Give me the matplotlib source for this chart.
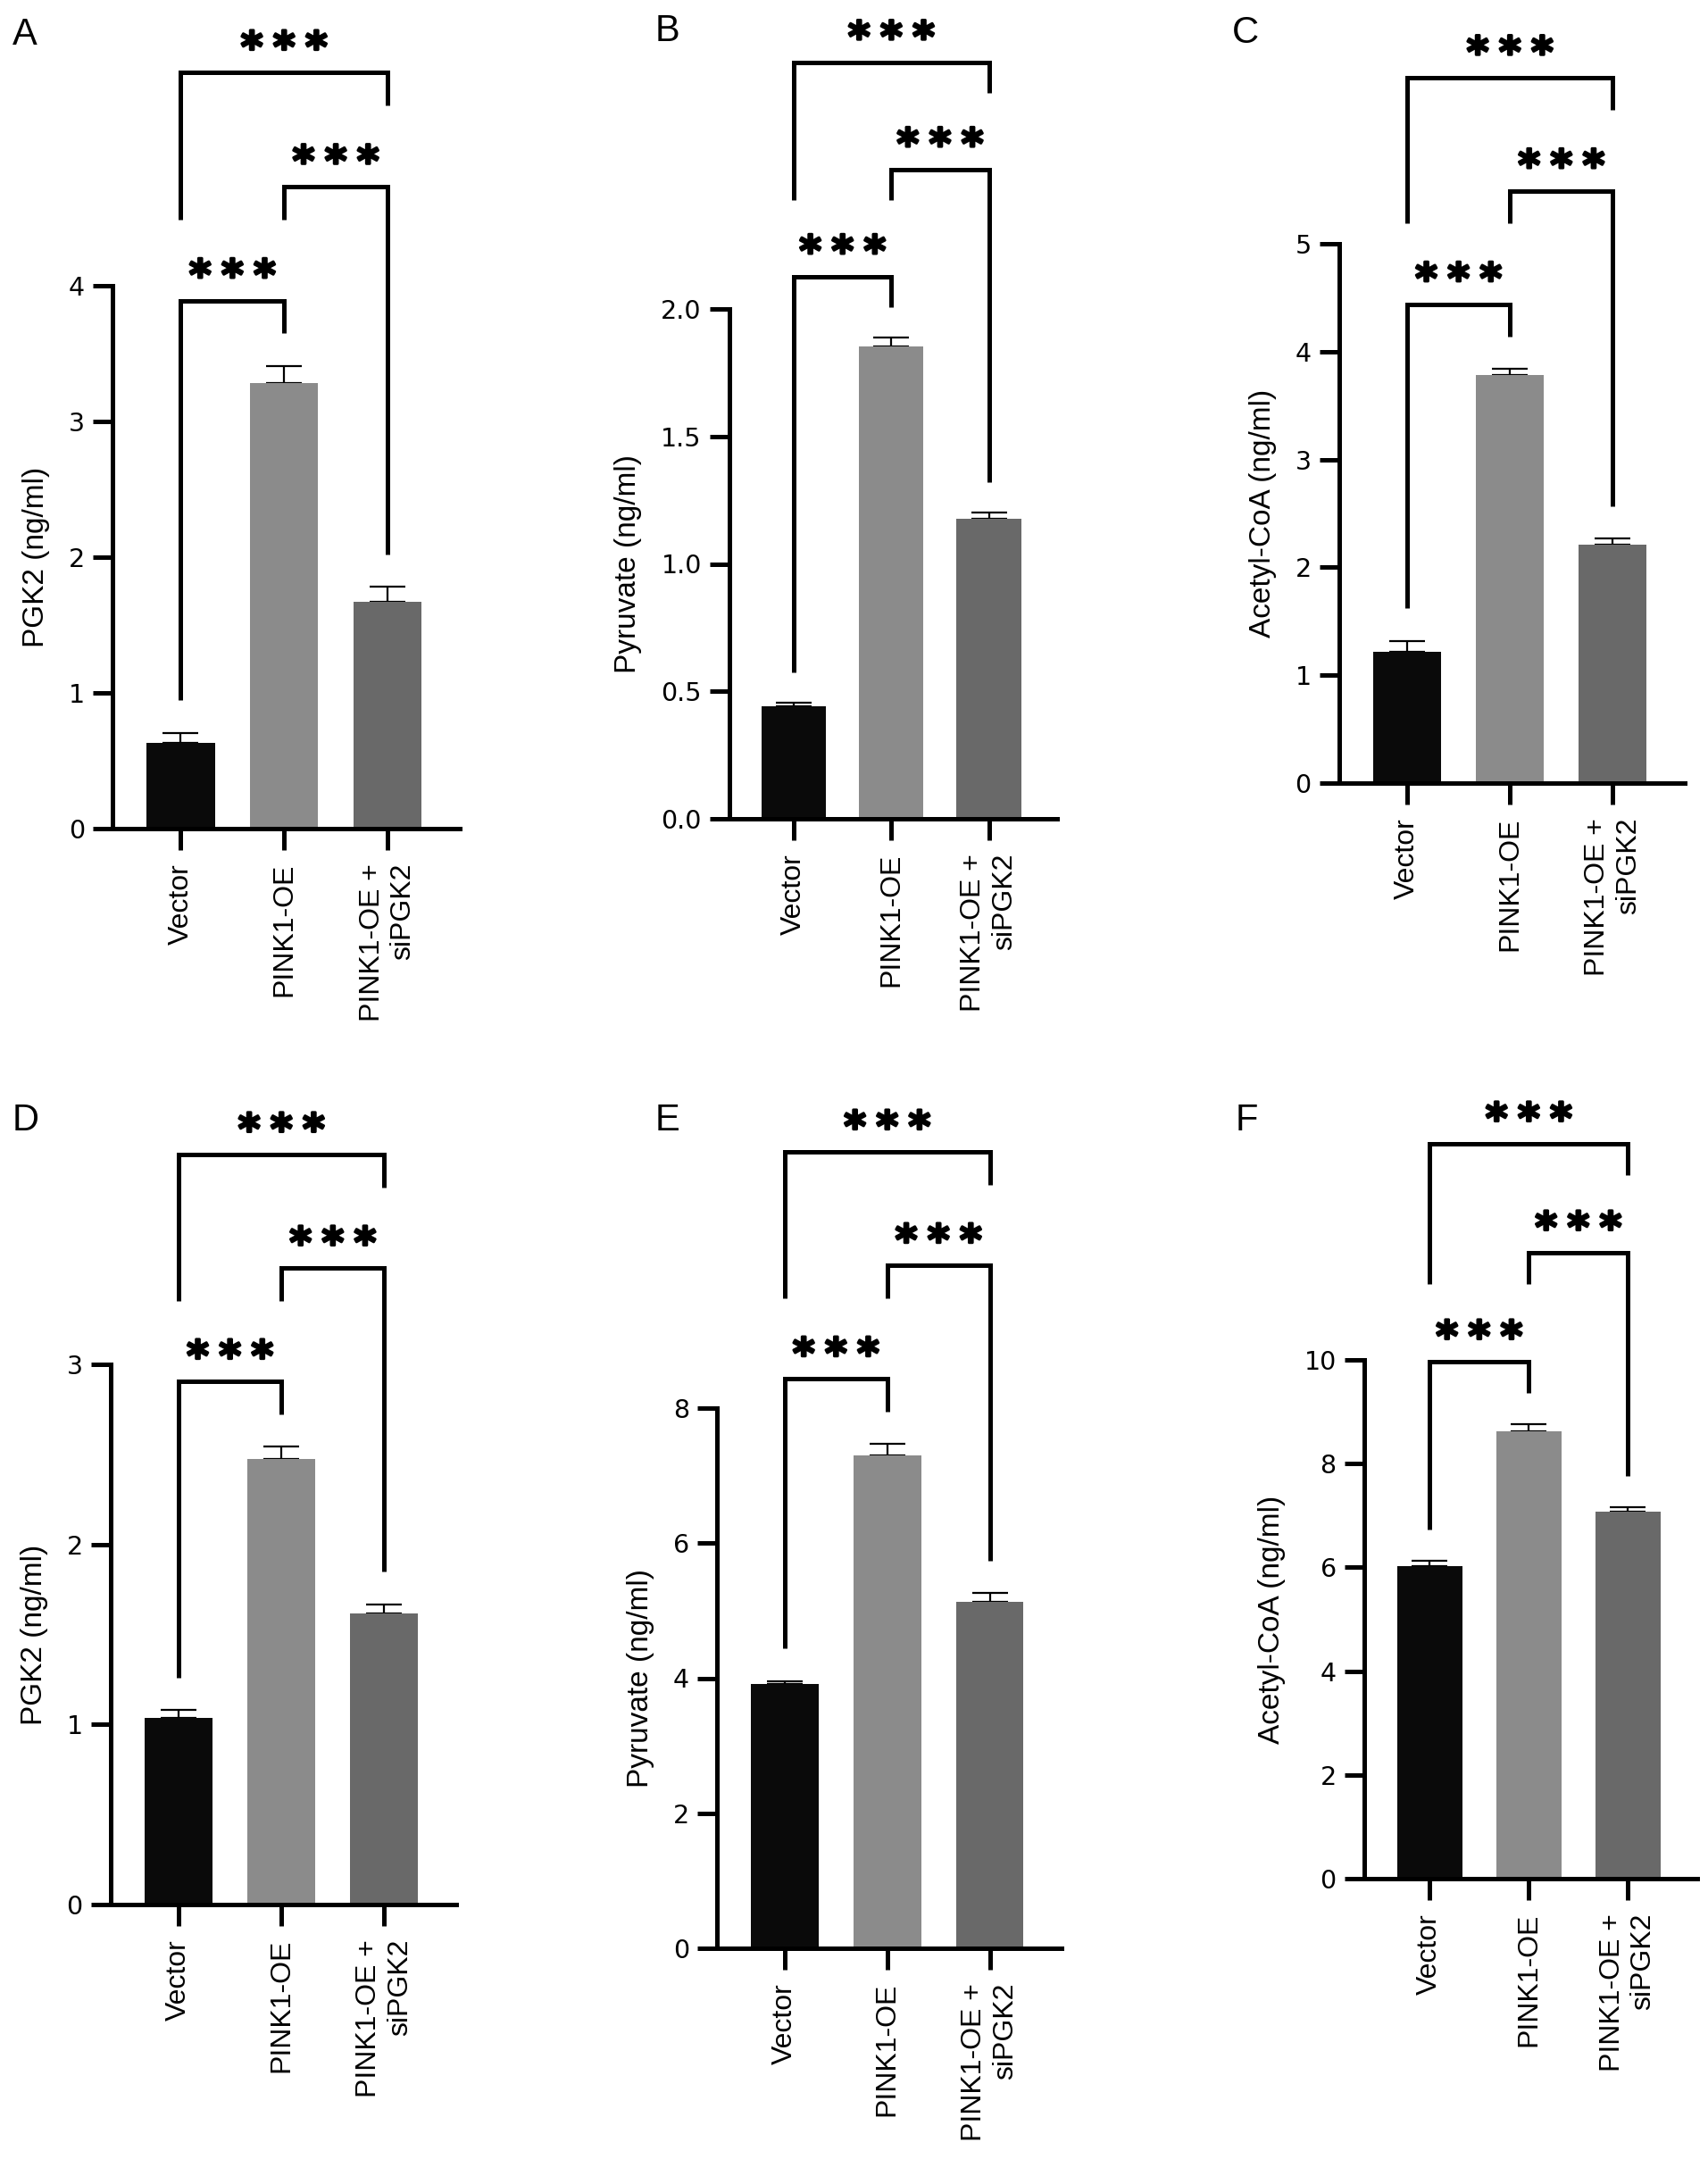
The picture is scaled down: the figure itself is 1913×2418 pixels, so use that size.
import matplotlib
matplotlib.use("Agg")
import matplotlib.pyplot as plt
import matplotlib.patheffects as pe
import numpy as np

W, H, DPI = 1913, 2418, 100

# ---------------- data ----------------
groups = ["Vector", "PINK1-OE", "PINK1-OE +\nsiPGK2"]
bar_colors = ["#0a0a0a", "#8b8b8b", "#696969"]
panel_letters = ["A", "B", "C", "D", "E", "F"]
ylabels = ["PGK2 (ng/ml)", "Pyruvate (ng/ml)", "Acetyl-CoA (ng/ml)",
           "PGK2 (ng/ml)", "Pyruvate (ng/ml)", "Acetyl-CoA (ng/ml)"]

pgk2_a = [0.63, 3.28, 1.67]
pgk2_a_err = [0.075, 0.13, 0.11]
pyr_b = [0.443, 1.852, 1.176]
pyr_b_err = [0.013, 0.035, 0.024]
acoa_c = [1.22, 3.78, 2.21]
acoa_c_err = [0.10, 0.06, 0.06]
pgk2_d = [1.034, 2.474, 1.618]
pgk2_d_err = [0.046, 0.07, 0.05]
pyr_e = [3.91, 7.30, 5.13]
pyr_e_err = [0.05, 0.17, 0.13]
acoa_f = [6.02, 8.62, 7.08]
acoa_f_err = [0.11, 0.14, 0.08]

ticks_a = [0, 1, 2, 3, 4]
ticks_b = [0.0, 0.5, 1.0, 1.5, 2.0]
ticks_c = [0, 1, 2, 3, 4, 5]
ticks_d = [0, 1, 2, 3]
ticks_e = [0, 2, 4, 6, 8]
ticks_f = [0, 2, 4, 6, 8, 10]
ticklabels_b = ["0.0", "0.5", "1.0", "1.5", "2.0"]

significance = "*"  # drawn three times per bracket ("***")

panels = [
    (pgk2_a, pgk2_a_err, ticks_a, [str(t) for t in ticks_a]),
    (pyr_b, pyr_b_err, ticks_b, ticklabels_b),
    (acoa_c, acoa_c_err, ticks_c, [str(t) for t in ticks_c]),
    (pgk2_d, pgk2_d_err, ticks_d, [str(t) for t in ticks_d]),
    (pyr_e, pyr_e_err, ticks_e, [str(t) for t in ticks_e]),
    (acoa_f, acoa_f_err, ticks_f, [str(t) for t in ticks_f]),
]

# ---------------- layout (pixels) ----------------
# left, right, y of zero, y of top tick
boxes = [
    (126, 515, 928, 320),
    (817, 1184, 917, 346),
    (1500, 1887, 877, 273),
    (124, 511, 2133, 1528),
    (803, 1189, 2182, 1577),
    (1528, 1901, 2104, 1523),
]
letter_pos = [(14, 19), (734, 15), (1380, 17), (14, 1235), (734, 1235), (1384, 1235)]

LW = 3.6
SANS = ["Liberation Sans", "DejaVu Sans"]

fig = plt.figure(figsize=(W / DPI, H / DPI), dpi=DPI)
star_fx = [pe.withStroke(linewidth=2.0, foreground="black")]


def draw_brackets(ax, vals, errs, ytop):
    tops = [v + e for v, e in zip(vals, errs)]
    gap = 0.06 * ytop
    l1 = max(tops[0], tops[1]) + 0.12 * ytop
    l2 = l1 + 0.21 * ytop
    l3 = l2 + 0.21 * ytop
    clear1 = l1 + 0.15 * ytop
    clear2 = l2 + 0.15 * ytop
    brackets = [(0, 1, l1, tops[0] + gap, tops[1] + gap),
                (1, 2, l2, clear1, tops[2] + gap),
                (0, 2, l3, clear1, clear2)]
    for i, j, lev, yl, yr in brackets:
        ax.plot([i, i, j, j], [yl, lev, lev, yr], color="black", lw=LW,
                clip_on=False, solid_joinstyle="miter", solid_capstyle="butt")
        xc = (i + j) / 2
        for k in (-1, 0, 1):
            ax.annotate(significance, xy=(xc, lev), xytext=(k * 26, 9),
                        textcoords="offset points", ha="center", va="baseline",
                        fontsize=34, fontweight="bold", family="DejaVu Sans",
                        annotation_clip=False, path_effects=star_fx)


for idx, ((vals, errs, ticks, tlabels), box) in enumerate(zip(panels, boxes)):
    left, right, y0, yt = box
    ax = fig.add_axes([left / W, 1 - y0 / H, (right - left) / W, (y0 - yt) / H])
    x = np.arange(len(groups))
    ax.bar(x, vals, width=0.66, color=bar_colors, edgecolor="none", zorder=2)
    ax.errorbar(x, vals, yerr=[np.zeros(len(vals)), errs], fmt="none",
                ecolor="black", elinewidth=1.6, capsize=14.5, capthick=1.6, zorder=1)
    ytop = ticks[-1]
    ax.set_ylim(0, ytop)
    ax.set_xlim(-0.66, 2.70)
    ax.set_yticks(ticks)
    ax.set_yticklabels(tlabels, family="DejaVu Sans", fontsize=20.5)
    ax.set_xticks(x)
    ax.set_xticklabels(groups, rotation=90, ha="center", va="top",
                       multialignment="right", family=SANS, fontsize=23)
    for s in ("top", "right"):
        ax.spines[s].set_visible(False)
    for s in ("left", "bottom"):
        ax.spines[s].set_linewidth(LW)
        ax.spines[s].set_capstyle("projecting")
    ax.tick_params(axis="y", width=LW, length=15.5, pad=7)
    ax.tick_params(axis="x", width=LW, length=17, pad=11)
    ax.set_ylabel(ylabels[idx], family=SANS, fontsize=24, labelpad=15)
    ax.patch.set_visible(False)
    draw_brackets(ax, vals, errs, ytop)

for letter, (lx, ly) in zip(panel_letters, letter_pos):
    fig.text(lx / W, 1 - ly / H, letter, ha="left", va="top",
             family=SANS, fontsize=30)

fig.savefig("out.png", dpi=DPI, facecolor="white")
